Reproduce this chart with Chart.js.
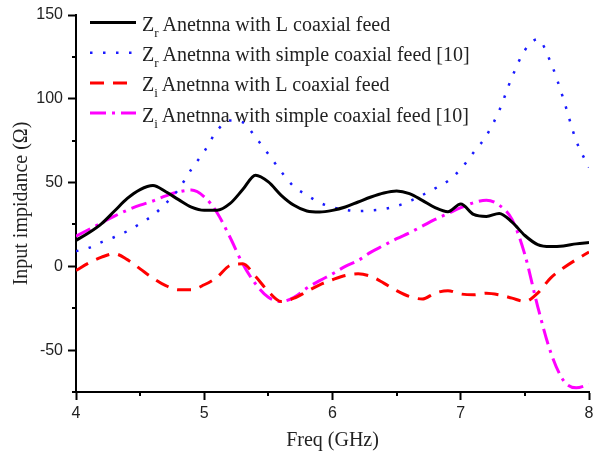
<!DOCTYPE html>
<html>
<head>
<meta charset="utf-8">
<script src="https://cdn.jsdelivr.net/npm/chart.js@4.4.1/dist/chart.umd.min.js"></script>
<style>
  html, body { margin: 0; padding: 0; background: #fff; }
  #wrap { width: 595px; height: 457px; }
</style>
</head>
<body>
<div id="wrap"><canvas id="grafico" width="595" height="457"></canvas></div>
<script>
// Datos
const freq = [4.0, 4.1, 4.2, 4.3, 4.4, 4.5, 4.6, 4.7, 4.8, 4.9,
              5.0, 5.1, 5.2, 5.3, 5.4, 5.5, 5.6, 5.7, 5.8, 5.9,
              6.0, 6.1, 6.2, 6.3, 6.4, 6.5, 6.6, 6.7, 6.8, 6.9,
              7.0, 7.1, 7.2, 7.3, 7.4, 7.5, 7.6, 7.7, 7.8, 7.9, 8.0];

const zrL = [15.5, 20, 25.5, 33, 40.5, 45.8, 48.2, 44.5, 39.8, 35.4,
             33.5, 33.5, 37.4, 45.8, 54.4, 50.4, 42.4, 36.4, 33, 32.4,
             33.4, 35.4, 38.4, 41.4, 43.8, 45, 43.4, 39.4, 35, 32.6,
             37.2, 31, 29.8, 31.6, 26.4, 18.4, 13, 11.8, 12.2, 13.4, 14.2];

const zrSimple = [9, 11, 14.5, 17.5, 21, 25.5, 30.5, 37.5, 46, 58,
                  68.5, 81, 87, 86, 77, 67, 56.5, 47.5, 42.5, 38,
                  35.3, 33.7, 33, 33.4, 34.2, 36, 38.8, 42.5, 46.5, 51,
                  58, 68, 78, 93, 113, 129, 135.5, 122, 100, 75, 59];

const ziL = [-2.5, 2, 5.5, 7.5, 4, -1.5, -7, -11.5, -14, -14,
             -11, -6.5, 0.5, 1.5, -6, -15, -21, -19, -15, -11,
             -8, -5.5, -4.5, -6, -10, -14.5, -18, -19.5, -16, -14.5,
             -16.5, -17, -16, -17, -19, -21, -16, -7, -1, 4, 8.5];

const ziSimple = [18, 22, 26, 30, 33.5, 36.5, 39, 42, 44.5, 45.5,
                  41.5, 32, 17.5, 1.5, -10.5, -18.5, -21, -18.5, -13, -8.5,
                  -4.5, 0, 3.5, 8.5, 12.5, 16.5, 20, 24, 28, 31.5,
                  35, 38, 39.5, 36.5, 28, 7, -24, -51, -68, -72.5, -70.5];

const nombres = ['Anetnna with L coaxial feed', 'Anetnna with simple coaxial feed [10]',
                 'Anetnna with L coaxial feed', 'Anetnna with simple coaxial feed [10]'];
const subindices = ['r', 'r', 'i', 'i'];

const yTicks = [-75, -50, -25, 0, 25, 50, 75, 100, 125, 150];

function puntos(valores) {
  return freq.map((f, i) => ({ x: f, y: valores[i] }));
}

const serif = "'Liberation Serif', 'Times New Roman', serif";
const sans = "'Liberation Sans', Arial, sans-serif";

// Marcas menores y leyenda dibujadas a mano
const extras = {
  id: 'extras',
  afterDraw(chart) {
    const ctx = chart.ctx;
    const xs = chart.scales.x;
    const ys = chart.scales.y;
    const area = chart.chartArea;
    ctx.save();
    ctx.strokeStyle = '#000';
    ctx.lineWidth = 2;
    for (let v = 4.5; v < 8; v += 1) {
      const px = Math.round(xs.getPixelForValue(v));
      ctx.beginPath();
      ctx.moveTo(px, area.bottom);
      ctx.lineTo(px, area.bottom + 4);
      ctx.stroke();
    }
    yTicks.filter(v => v % 50 !== 0).forEach(v => {
      const py = Math.round(ys.getPixelForValue(v));
      ctx.beginPath();
      ctx.moveTo(area.left, py);
      ctx.lineTo(area.left - 4, py);
      ctx.stroke();
    });

    // Leyenda
    chart.data.datasets.forEach((ds, i) => {
      const base = 31 + i * 30.2;
      const y = base - 8.5;
      ctx.beginPath();
      ctx.strokeStyle = ds.borderColor;
      ctx.lineWidth = ds.borderWidth;
      ctx.setLineDash(ds.borderDash || []);
      ctx.moveTo(90, y);
      ctx.lineTo(136, y);
      ctx.stroke();
      ctx.setLineDash([]);
      ctx.fillStyle = '#222';
      ctx.textBaseline = 'alphabetic';
      ctx.font = '20px ' + serif;
      ctx.fillText('Z', 142, base);
      let x = 142 + ctx.measureText('Z').width;
      ctx.font = '13px ' + serif;
      ctx.fillText(subindices[i], x, base + 6);
      x += ctx.measureText(subindices[i]).width + 4;
      ctx.font = '20px ' + serif;
      ctx.fillText(nombres[i], x, base);
    });
    ctx.restore();
  }
};

const ctx = document.getElementById('grafico').getContext('2d');
const chart = new Chart(ctx, {
  type: 'line',
  data: {
    datasets: [
      { label: 'Zr ' + nombres[0], data: puntos(zrL), borderColor: '#000000', borderWidth: 3 },
      { label: 'Zr ' + nombres[1], data: puntos(zrSimple), borderColor: '#1a1aff', borderWidth: 2.5, borderDash: [2.5, 10.5] },
      { label: 'Zi ' + nombres[2], data: puntos(ziL), borderColor: '#ff0000', borderWidth: 3, borderDash: [14, 9] },
      { label: 'Zi ' + nombres[3], data: puntos(ziSimple), borderColor: '#ff00ff', borderWidth: 3, borderDash: [16, 6, 3, 6] }
    ]
  },
  options: {
    responsive: false,
    animation: false,
    elements: {
      point: { radius: 0 },
      line: { cubicInterpolationMode: 'monotone', fill: false, borderCapStyle: 'butt' }
    },
    layout: { padding: { left: 0, right: 6, top: 15, bottom: 0 } },
    plugins: {
      legend: { display: false },
      tooltip: { enabled: false }
    },
    scales: {
      x: {
        type: 'linear',
        min: 4,
        max: 8,
        afterFit: s => { s.height = 65; s.paddingLeft = 0; s.paddingRight = 0; },
        ticks: {
          stepSize: 1,
          padding: 4,
          color: '#222',
          font: { family: sans, size: 16 },
          callback: v => (Number.isInteger(v) ? v : '')
        },
        grid: { drawOnChartArea: false, tickLength: 8, tickColor: '#000', tickWidth: 2 },
        border: { display: true, color: '#000', width: 2 },
        title: {
          display: true,
          text: 'Freq (GHz)',
          color: '#222',
          font: { family: serif, size: 20 },
          padding: { top: 4 }
        }
      },
      y: {
        min: -75,
        max: 150,
        afterFit: s => { s.width = 76; },
        afterBuildTicks: s => { s.ticks = yTicks.map(v => ({ value: v })); },
        ticks: {
          padding: 5,
          color: '#222',
          font: { family: sans, size: 16 },
          callback: v => (v % 50 === 0 ? v : '')
        },
        grid: {
          drawOnChartArea: false,
          tickLength: 8,
          tickWidth: 2,
          tickColor: c => (c.tick && c.tick.value % 50 === 0 ? '#000' : 'rgba(0,0,0,0)')
        },
        border: { display: true, color: '#000', width: 2 },
        title: {
          display: true,
          text: 'Input impidance (Ω)',
          color: '#222',
          font: { family: serif, size: 20 },
          padding: { top: 10 }
        }
      }
    }
  },
  plugins: [extras]
});
</script>
</body>
</html>
